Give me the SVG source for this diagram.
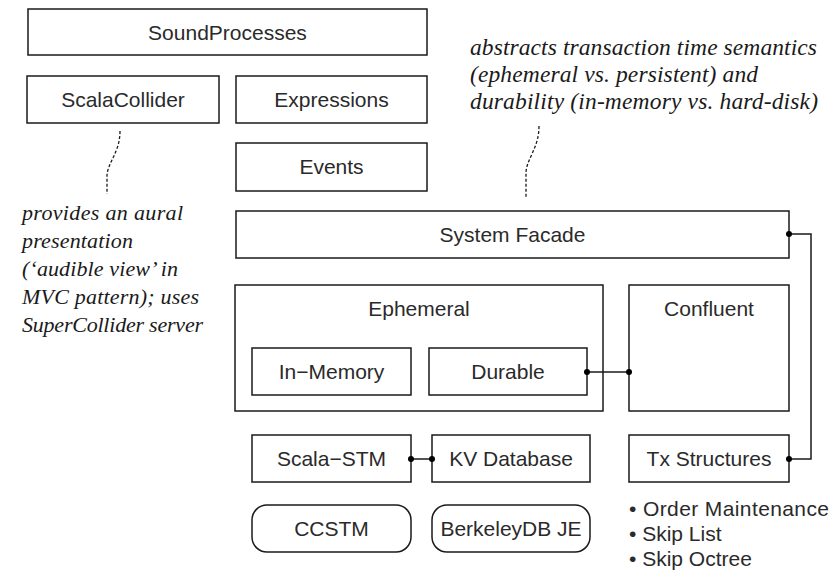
<svg xmlns="http://www.w3.org/2000/svg" width="831" height="570" viewBox="0 0 831 570">
<style>
.box{fill:#fff;stroke:#1a1a1a;stroke-width:1.5}
.lbl{font-family:"Liberation Sans",Arial,sans-serif;font-size:21px;fill:#2a2a2a;text-anchor:middle}
.bul{font-family:"Liberation Sans",Arial,sans-serif;font-size:21px;fill:#2a2a2a}
.note{font-family:"Liberation Serif","Times New Roman",serif;font-style:italic;font-size:22px;fill:#1a1a1a}
.noteR{font-size:23.5px}
.wire{fill:none;stroke:#1a1a1a;stroke-width:1.5}
.dash{fill:none;stroke:#1a1a1a;stroke-width:1.3;stroke-dasharray:3 2}
.dot{fill:#000}
</style>
<rect width="831" height="570" fill="#fff"/>
<g id="SoundProcesses"><rect class="box" x="28" y="9" width="399" height="46"/><text class="lbl" x="227.5" y="40">SoundProcesses</text></g>
<g id="ScalaCollider"><rect class="box" x="27" y="76" width="192" height="47"/><text class="lbl" x="123" y="107">ScalaCollider</text></g>
<g id="Expressions"><rect class="box" x="236" y="76" width="191" height="47"/><text class="lbl" x="331.5" y="107">Expressions</text></g>
<g id="Events"><rect class="box" x="236" y="143" width="191" height="48"/><text class="lbl" x="331.5" y="174">Events</text></g>
<g id="SystemFacade"><rect class="box" x="236" y="211" width="553" height="47"/><text class="lbl" x="512.5" y="242">System Facade</text></g>
<g id="Ephemeral"><rect class="box" x="235" y="285" width="368" height="126"/><text class="lbl" x="419" y="316">Ephemeral</text></g>
<g id="InMemory"><rect class="box" x="252" y="348" width="159" height="47"/><text class="lbl" x="331.5" y="379">In−Memory</text></g>
<g id="Durable"><rect class="box" x="429" y="348" width="158" height="47"/><text class="lbl" x="508" y="379">Durable</text></g>
<g id="Confluent"><rect class="box" x="629" y="285" width="160" height="126"/><text class="lbl" x="709" y="316">Confluent</text></g>
<g id="ScalaSTM"><rect class="box" x="252" y="435" width="159" height="47"/><text class="lbl" x="331.5" y="466">Scala−STM</text></g>
<g id="KVDatabase"><rect class="box" x="432" y="435" width="158" height="47"/><text class="lbl" x="511" y="466">KV Database</text></g>
<g id="TxStructures"><rect class="box" x="629" y="435" width="160" height="47"/><text class="lbl" x="709" y="466">Tx Structures</text></g>
<g id="CCSTM"><rect class="box" x="252" y="505" width="159" height="47" rx="15" ry="15"/><text class="lbl" x="331.5" y="536">CCSTM</text></g>
<g id="BerkeleyDB"><rect class="box" x="432" y="505" width="158" height="47" rx="15" ry="15"/><text class="lbl" x="511" y="536">BerkeleyDB JE</text></g>
<g id="TxList">
<text class="bul" x="629" y="516" textLength="200">• Order Maintenance</text>
<text class="bul" x="629" y="541">• Skip List</text>
<text class="bul" x="629" y="566">• Skip Octree</text>
</g>
<g id="noteLeft">
<text class="note" x="22" y="220" textLength="161">provides an aural</text>
<text class="note" x="22" y="248" textLength="111">presentation</text>
<text class="note" x="22" y="276" textLength="156">(‘audible view’ in</text>
<text class="note" x="22" y="304" textLength="177">MVC pattern); uses</text>
<text class="note" x="22" y="332" textLength="181">SuperCollider server</text>
</g>
<g id="noteRight">
<text class="note noteR" x="470" y="55" textLength="347">abstracts transaction time semantics</text>
<text class="note noteR" x="470" y="82" textLength="288">(ephemeral vs. persistent) and</text>
<text class="note noteR" x="470" y="109" textLength="348">durability (in-memory vs. hard-disk)</text>
</g>
<g id="connectors">
<path class="dash" d="M120,131 C120,152 108,162 107,175 L107,194"/>
<path class="dash" d="M539,126 C539,148 527,158 526,172 L526,198"/>
<path class="wire" d="M587,372 H629"/>
<path class="wire" d="M789,234 H811 V459 H789"/>
<path class="wire" d="M411,459 H432"/>
<circle class="dot" cx="587" cy="372" r="3"/>
<circle class="dot" cx="629" cy="372" r="3"/>
<circle class="dot" cx="789" cy="234" r="3"/>
<circle class="dot" cx="789" cy="459" r="3"/>
<circle class="dot" cx="411" cy="459" r="3"/>
<circle class="dot" cx="432" cy="459" r="3"/>
</g>
</svg>
